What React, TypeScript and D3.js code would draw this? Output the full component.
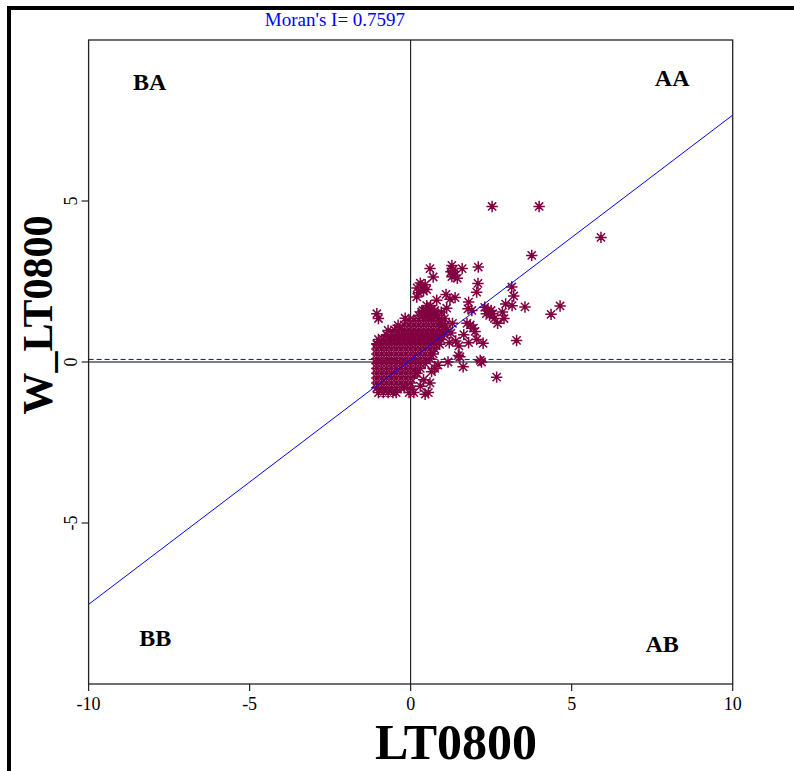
import React from 'react';
import * as d3 from 'd3';

// ---- data ----
const xTicks = [-10, -5, 0, 5, 10];
const yTicks = [-5, 0, 5];
const moranI = 0.7597;
const lagIntercept = 0.07;
const lagMean = 0.08;
const xLabel = 'LT0800';
const yLabel = 'W_LT0800';
const quadrantNames = ['BA', 'AA', 'BB', 'AB'];
const quadrantX = [-8.1, 8.12, -7.93, 7.81];
const quadrantY = [8.45, 8.57, -8.82, -9.0];

// dense core of the cloud, by rows of W values
const coreRowY = [1.75, 1.6, 1.45, 1.3, 1.15, 1.0, 0.85, 0.7, 0.55, 0.4, 0.25, 0.1, -0.05, -0.2, -0.35, -0.5, -0.65, -0.8, -0.95];
const coreRowX = [
  [0.5, 0.62],
  [0.38, 0.5, 0.62, 0.75],
  [0.25, 0.38, 0.5, 0.62, 0.75, 0.85],
  [-0.05, 0.1, 0.25, 0.4, 0.55, 0.7, 0.85, 0.95],
  [-0.2, -0.05, 0.1, 0.25, 0.4, 0.55, 0.7, 0.85, 0.97, 1.08],
  [-0.5, -0.35, -0.2, -0.05, 0.1, 0.25, 0.4, 0.55, 0.7, 0.85, 1.0, 1.12],
  [-0.75, -0.6, -0.45, -0.3, -0.15, 0.0, 0.15, 0.3, 0.45, 0.6, 0.75, 0.9, 1.05],
  [-1.0, -0.85, -0.7, -0.55, -0.4, -0.25, -0.1, 0.05, 0.2, 0.35, 0.5, 0.65, 0.8, 0.95],
  [-1.05, -0.9, -0.75, -0.6, -0.45, -0.3, -0.15, 0.0, 0.15, 0.3, 0.45, 0.6, 0.75, 0.9],
  [-1.05, -0.9, -0.75, -0.6, -0.45, -0.3, -0.15, 0.0, 0.15, 0.3, 0.45, 0.6, 0.75],
  [-1.05, -0.9, -0.75, -0.6, -0.45, -0.3, -0.15, 0.0, 0.15, 0.3, 0.45, 0.6, 0.7],
  [-1.05, -0.9, -0.75, -0.6, -0.45, -0.3, -0.15, 0.0, 0.15, 0.3, 0.45, 0.6],
  [-1.05, -0.9, -0.75, -0.6, -0.45, -0.3, -0.15, 0.0, 0.15, 0.3, 0.45],
  [-1.05, -0.9, -0.75, -0.6, -0.45, -0.3, -0.15, 0.0, 0.15, 0.3],
  [-1.05, -0.9, -0.75, -0.6, -0.45, -0.3, -0.15, 0.0, 0.15],
  [-1.05, -0.9, -0.75, -0.6, -0.45, -0.3, -0.15, 0.0],
  [-1.05, -0.9, -0.75, -0.6, -0.45, -0.3, -0.15],
  [-1.05, -0.9, -0.75, -0.6, -0.45, -0.3, -0.2],
  [-1.0, -0.85, -0.7, -0.55, -0.45],
];

// scattered observations [LT0800, W_LT0800]
const scatterPoints: [number, number][] = [
  [2.53, 4.83], [3.99, 4.83], [5.91, 3.87], [3.76, 3.31], [4.64, 1.74], [4.36, 1.48],
  [3.29, 0.67], [2.67, -0.47], [3.55, 1.71], [3.14, 2.33],
  [3.2, 2.05], [3.15, 1.75], [2.95, 1.8], [2.85, 1.55], [2.9, 1.35], [2.7, 1.2],
  [2.45, 1.45], [2.4, 1.6], [2.3, 1.7], [2.55, 1.5], [2.6, 1.35], [2.35, 1.5], [2.5, 1.6],
  [2.16, 0.05], [2.25, 0.58],
  [1.95, 1.05], [2.0, 0.95], [1.75, 1.2], [1.85, 1.15], [1.65, 0.85], [1.4, 0.65],
  [1.5, 0.5], [1.8, 0.6], [2.05, 0.7], [1.25, 0.9], [1.2, 0.6], [1.3, 1.2],
  [1.63, -0.15], [1.48, 0.2], [1.16, 0.0], [1.53, 0.16], [2.2, 0.0],
  [1.28, 3.0], [1.6, 2.9], [1.25, 2.8], [1.28, 2.65], [1.45, 2.6], [1.3, 2.85], [1.35, 2.7],
  [2.1, 2.95], [2.09, 2.44], [2.05, 2.17], [0.6, 2.9], [0.7, 2.64],
  [0.3, 2.45], [0.2, 2.3], [0.4, 2.2], [0.25, 2.15], [0.5, 2.25], [0.45, 2.4], [0.35, 2.3],
  [0.19, 2.02], [0.81, 1.92], [1.22, 1.95], [1.38, 2.0], [1.8, 1.86], [1.78, 1.65], [1.9, 1.6],
  [-1.05, 1.5], [-1.0, 1.35], [-0.7, 0.98], [-0.39, 1.14], [-0.17, 1.36], [0.34, 1.55],
  [1.12, 1.67], [-1.05, 0.57], [1.05, 1.35], [0.95, 1.55],
  [0.3, -0.75], [0.55, -0.95], [0.45, -1.0], [0.1, -0.95], [0.65, -0.3], [0.85, -0.1],
  [0.75, -0.2], [0.2, -0.35], [0.0, -0.65], [-0.05, -0.95], [0.05, -0.85], [0.4, -0.55],
  [0.6, -0.65], [1.1, 2.1],
];

const W = 794;
const H = 771;
const serif = '"Liberation Serif", "Times New Roman", Times, serif';
const pointColor = '#800040';

function asterisk(cx: number, cy: number, r: number) {
  const d = r * 0.72;
  return `M${cx - r},${cy}H${cx + r}M${cx},${cy - r}V${cy + r}` +
    `M${cx - d},${cy - d}L${cx + d},${cy + d}M${cx - d},${cy + d}L${cx + d},${cy - d}`;
}

export default function App() {
  const x = d3.scaleLinear().domain([-10, 10]).range([88.6, 732.7]);
  const y = d3.scaleLinear().domain([-10, 10]).range([684, 40]);

  const corePoints: [number, number][] = [];
  coreRowY.forEach((wy, i) => coreRowX[i].forEach((vx) => corePoints.push([vx, wy])));
  const allPoints = corePoints.concat(scatterPoints);

  const line = d3.line<number>().x((v) => x(v)).y((v) => y(lagIntercept + moranI * v));
  const [x0, x1] = x.domain();

  return (
    <svg width={W} height={H} style={{ position: 'absolute', left: 0, top: 0, background: '#fff' }}>
      <rect x={0} y={0} width={W} height={H} fill="#fff" />
      {/* outer frame */}
      <rect x={7} y={6} width={W - 7} height={4} fill="#000" />
      <rect x={7} y={6} width={4} height={H - 6} fill="#000" />

      <text x={335} y={26} textAnchor="middle" fill="#0000ff" fontFamily={serif} fontSize={19}>
        {`Moran's I= ${moranI.toFixed(4)}`}
      </text>

      {/* reference lines */}
      <line x1={x(0)} x2={x(0)} y1={y(10)} y2={y(-10)} stroke="#000" strokeWidth={1} />
      <line x1={x(-10)} x2={x(10)} y1={y(0)} y2={y(0)} stroke="#000" strokeWidth={1} />
      <line x1={x(-10)} x2={x(10)} y1={y(lagMean)} y2={y(lagMean)} stroke="#0000ff" strokeWidth={1} strokeDasharray="5,3" />

      {/* points */}
      <path
        d={allPoints.map(([vx, vy]) => asterisk(x(vx), y(vy), 5.7)).join('')}
        stroke={pointColor}
        strokeWidth={1.5}
        fill="none"
      />

      {/* regression line */}
      <path d={line([x0, x1]) || ''} stroke="#0000ff" strokeWidth={1} fill="none" />

      {/* box */}
      <rect x={x(-10)} y={y(10)} width={x(10) - x(-10)} height={y(-10) - y(10)} fill="none" stroke="#222" strokeWidth={1.3} />

      {/* x axis */}
      {xTicks.map((t) => (
        <g key={`xt${t}`}>
          <line x1={x(t)} x2={x(t)} y1={y(-10)} y2={y(-10) + 7} stroke="#222" strokeWidth={1.2} />
          <text x={x(t)} y={710} textAnchor="middle" fontFamily={serif} fontSize={18} fill="#000">{t}</text>
        </g>
      ))}
      {/* y axis */}
      {yTicks.map((t) => (
        <g key={`yt${t}`}>
          <line x1={x(-10) - 7} x2={x(-10)} y1={y(t)} y2={y(t)} stroke="#222" strokeWidth={1.2} />
          <text transform={`translate(77,${y(t)}) rotate(-90)`} textAnchor="middle" fontFamily={serif} fontSize={18} fill="#000">{t}</text>
        </g>
      ))}

      {/* quadrant labels */}
      {quadrantNames.map((q, i) => (
        <text key={q} x={x(quadrantX[i])} y={y(quadrantY[i])} textAnchor="middle" fontFamily={serif} fontWeight="bold" fontSize={24} fill="#000">{q}</text>
      ))}

      {/* axis titles */}
      <text x={456} y={759} textAnchor="middle" fontFamily={serif} fontWeight="bold" fontSize={50} fill="#000">{xLabel}</text>
      <text transform="translate(52,315) rotate(-90)" textAnchor="middle" fontFamily={serif} fontWeight="bold" fontSize={42} fill="#000">{yLabel}</text>
    </svg>
  );
}
